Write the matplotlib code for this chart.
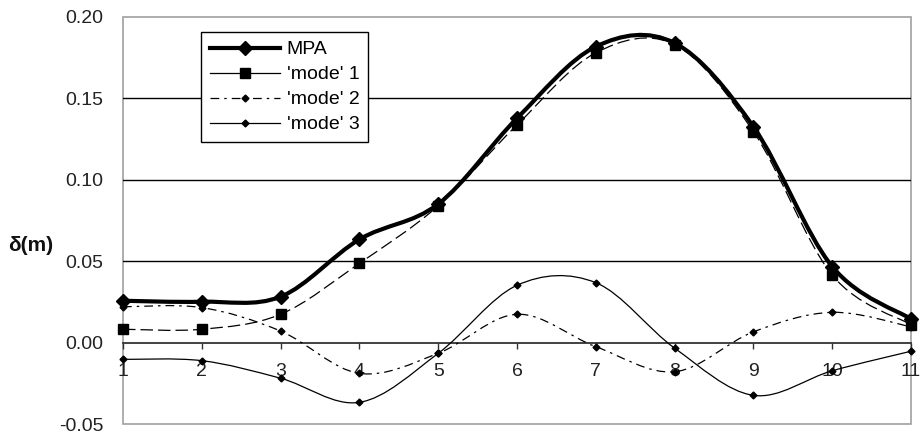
import numpy as np
import matplotlib
matplotlib.use("Agg")
import matplotlib.pyplot as plt
from matplotlib.path import Path
from matplotlib.patches import PathPatch, Rectangle
from matplotlib.lines import Line2D

# values
storeys = [1, 2, 3, 4, 5, 6, 7, 8, 9, 10, 11]
mpa = [0.0257, 0.0251, 0.0282, 0.0634, 0.0851, 0.1378, 0.1818, 0.1840, 0.1326, 0.0467, 0.0145]
mode1 = [0.0082, 0.0082, 0.0174, 0.0487, 0.0840, 0.1337, 0.1780, 0.1830, 0.1296, 0.0415, 0.0110]
mode2 = [0.0220, 0.0215, 0.0071, -0.0189, -0.0066, 0.0174, -0.0025, -0.0179, 0.0066, 0.0186, 0.0097]
mode3 = [-0.0103, -0.0111, -0.0219, -0.0367, -0.0066, 0.0352, 0.0368, -0.0034, -0.0324, -0.0173, -0.0053]
series_names = ["MPA", "'mode' 1", "'mode' 2", "'mode' 3"]
yticks = [-0.05, 0.0, 0.05, 0.10, 0.15, 0.20]

plt.rcParams['font.family'] = ['Liberation Sans', 'DejaVu Sans']


def smooth_path(x, y):
    # excel style smoothed line: bezier segments through the points
    n = len(x)
    verts = [(x[0], y[0])]
    codes = [Path.MOVETO]
    for i in range(n - 1):
        j0 = i - 1 if i > 0 else i
        j3 = i + 2 if i + 2 < n else i + 1
        c1 = (x[i] + (x[i + 1] - x[j0]) / 6.0, y[i] + (y[i + 1] - y[j0]) / 6.0)
        c2 = (x[i + 1] - (x[j3] - x[i]) / 6.0, y[i + 1] - (y[j3] - y[i]) / 6.0)
        verts += [c1, c2, (x[i + 1], y[i + 1])]
        codes += [Path.CURVE4] * 3
    return Path(verts, codes)


fig = plt.figure(figsize=(9.21, 4.36), dpi=100)
ax = fig.add_axes([123 / 921, 1 - 424 / 436, 788 / 921, 407 / 436])

ax.set_xlim(1, 11)
ax.set_ylim(-0.05, 0.20)

for g in [0.05, 0.10, 0.15]:
    ax.axhline(g, color='black', lw=1.0, zorder=1)

styles = [
    dict(lw=3.0, ls='-', marker='D', ms=7.5),
    dict(lw=0.9, ls=(0, (10, 4)), marker='s', ms=7),
    dict(lw=0.9, ls=(0, (7, 4, 2, 4)), marker='D', ms=3.5),
    dict(lw=0.9, ls='-', marker='D', ms=3.5),
]
for vals, st in zip([mode3, mode2, mode1, mpa], styles[::-1]):
    ax.add_patch(PathPatch(smooth_path(storeys, vals), facecolor='none',
                           edgecolor='black', lw=st['lw'], linestyle=st['ls'],
                           zorder=3, clip_on=False))
    ax.plot(storeys, vals, ls='none', marker=st['marker'], ms=st['ms'],
            color='black', zorder=4, clip_on=False)

# category axis crosses at zero
for side in ['top', 'right', 'left']:
    ax.spines[side].set_visible(False)
ax.spines['bottom'].set_position(('data', 0))
ax.spines['bottom'].set_color('#333333')
ax.spines['bottom'].set_linewidth(1.3)
ax.add_patch(Rectangle((0, 0), 1, 1, transform=ax.transAxes, fill=False,
                       edgecolor='#a0a0a0', lw=1.2, zorder=0, clip_on=False))

ax.set_xticks(storeys)
ax.set_xticklabels([str(s) for s in storeys])
ax.tick_params(axis='x', direction='out', length=4.5, width=1, color='#333333',
               pad=10.5, labelsize=14, labelcolor='#222222')
ax.set_yticks(yticks)
ax.set_yticklabels(['%.2f' % v for v in yticks])
ax.tick_params(axis='y', length=0, pad=14, labelsize=14, labelcolor='#222222')

fig.text(31 / 921, 1 - 245 / 436, 'δ(m)', fontsize=15, fontweight='bold',
         ha='center', va='center', color='#111111')

handles = [
    Line2D([], [], color='black', lw=3.0, marker='D', ms=7.5),
    Line2D([], [], color='black', lw=0.9, marker='s', ms=7),
    Line2D([], [], color='black', lw=0.9, ls=(0, (7, 4, 2, 4)), marker='D', ms=3.5),
    Line2D([], [], color='black', lw=0.9, marker='D', ms=3.5),
]
leg = ax.legend(handles, series_names, loc='upper left',
                bbox_to_anchor=((201 - 123) / 788, (424 - 32) / 407),
                borderaxespad=0, fontsize=14, handlelength=3.6,
                handletextpad=0.35, labelspacing=0.38, borderpad=0.45,
                fancybox=False, framealpha=1, edgecolor='black')
leg.get_frame().set_linewidth(1.0)
leg.set_zorder(10)

fig.savefig('out.png', dpi=100)
